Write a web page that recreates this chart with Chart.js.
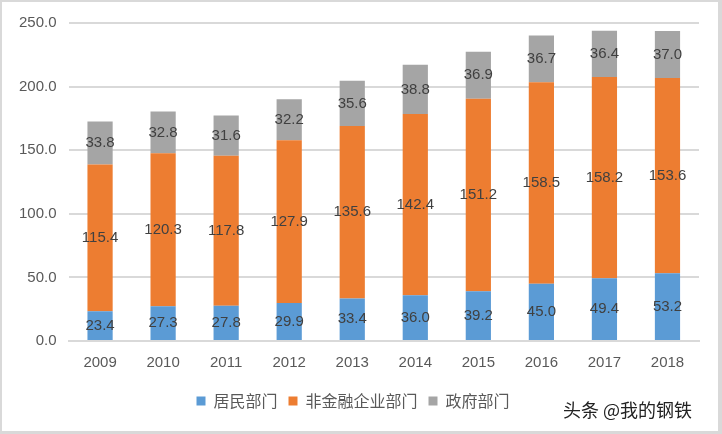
<!DOCTYPE html>
<html>
<head>
<meta charset="utf-8">
<script src="https://cdn.jsdelivr.net/npm/chart.js@4"></script>
<style>
    body { margin: 0; background: #fff; }
    #wrap { position: relative; width: 722px; height: 434px; box-sizing: border-box; border: 2px solid #d9d9d9; border-right-width: 4px; border-bottom-width: 3px; }
    #mark { position: absolute; left: 561px; top: 394px; font: 18px "Noto Sans CJK SC"; color: #222; }
</style>
</head>
<body>
<div id="wrap">
    <canvas id="myChart" width="716" height="429"></canvas>
    <div id="mark">头条 @我的钢铁</div>
</div>
<script>
// Data
var years = ["2009", "2010", "2011", "2012", "2013", "2014", "2015", "2016", "2017", "2018"];
var household = [23.4, 27.3, 27.8, 29.9, 33.4, 36.0, 39.2, 45.0, 49.4, 53.2];
var corporate = [115.4, 120.3, 117.8, 127.9, 135.6, 142.4, 151.2, 158.5, 158.2, 153.6];
var government = [33.8, 32.8, 31.6, 32.2, 35.6, 38.8, 36.9, 36.7, 36.4, 37.0];
var seriesNames = ["居民部门", "非金融企业部门", "政府部门"];

// Draw the value in the middle of every bar segment
var valueLabels = {
    id: "valueLabels",
    afterDatasetsDraw: function (chart) {
        var ctx = chart.ctx;
        ctx.save();
        ctx.font = "15px 'Liberation Sans'";
        ctx.fillStyle = "#404040";
        ctx.textAlign = "center";
        ctx.textBaseline = "middle";
        chart.data.datasets.forEach(function (ds, i) {
            chart.getDatasetMeta(i).data.forEach(function (bar, j) {
                var p = bar.getCenterPoint();
                ctx.fillText(ds.data[j].toFixed(1), p.x, p.y);
            });
        });
        ctx.restore();
    }
};

var myChart = document.getElementById("myChart").getContext("2d");
var chart = new Chart(myChart, {
    type: "bar",
    data: {
        labels: years,
        datasets: [
            { label: seriesNames[0], data: household, backgroundColor: "#5b9bd5" },
            { label: seriesNames[1], data: corporate, backgroundColor: "#ed7d31" },
            { label: seriesNames[2], data: government, backgroundColor: "#a5a5a5" }
        ]
    },
    options: {
        responsive: false,
        animation: false,
        barPercentage: 0.4,
        categoryPercentage: 1,
        layout: { padding: { top: 13, right: 19, left: 5, bottom: 12 } },
        plugins: {
            tooltip: { enabled: false },
            legend: {
                position: "bottom",
                labels: {
                    boxWidth: 9,
                    boxHeight: 9,
                    padding: 11,
                    color: "#595959",
                    font: { family: "Noto Sans CJK SC", size: 16 }
                }
            }
        },
        scales: {
            x: {
                stacked: true,
                grid: { display: false },
                border: { color: "#d9d9d9", width: 2 },
                ticks: { color: "#595959", padding: 5, font: { family: "Liberation Sans", size: 15 } },
                afterFit: function (s) { s.height += 5; }
            },
            y: {
                stacked: true,
                min: 0,
                max: 250,
                grid: { color: "#d9d9d9", lineWidth: 2, drawTicks: false },
                border: { display: false },
                ticks: {
                    stepSize: 50,
                    padding: 12,
                    color: "#595959",
                    font: { family: "Liberation Sans", size: 15 },
                    callback: function (v) { return v.toFixed(1); }
                }
            }
        }
    },
    plugins: [valueLabels]
});
</script>
</body>
</html>
